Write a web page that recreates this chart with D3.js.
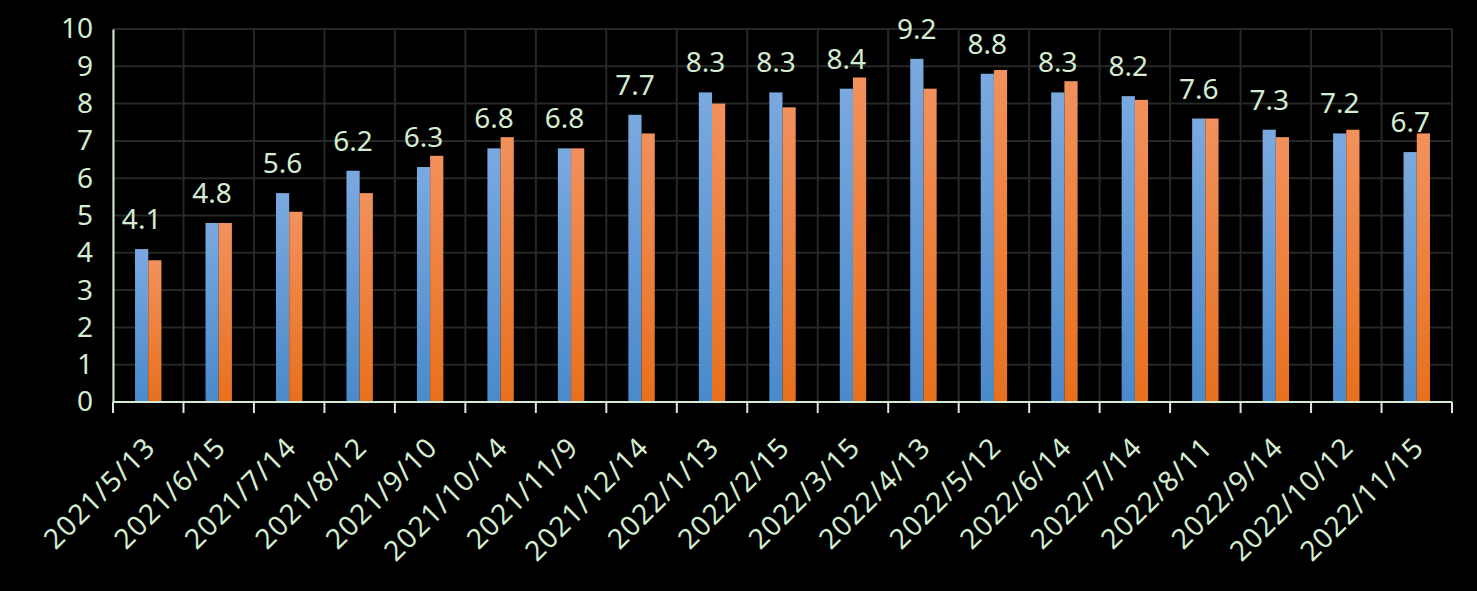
<!DOCTYPE html>
<html>
<head>
<meta charset="utf-8">
<script src="https://cdn.jsdelivr.net/npm/d3@7"></script>
<style>
  html, body { margin: 0; padding: 0; background: #000; }
  svg { display: block; }
  text { font-family: "Noto Sans", "Open Sans", sans-serif; }
</style>
</head>
<body>
<svg id="chart"></svg>
<script>
// data
let dates = ['2021/5/13','2021/6/15','2021/7/14','2021/8/12','2021/9/10','2021/10/14','2021/11/9',
    '2021/12/14','2022/1/13','2022/2/15','2022/3/15','2022/4/13','2022/5/12','2022/6/14',
    '2022/7/14','2022/8/11','2022/9/14','2022/10/12','2022/11/15'];
let seriesA = [4.1, 4.8, 5.6, 6.2, 6.3, 6.8, 6.8, 7.7, 8.3, 8.3, 8.4, 9.2, 8.8, 8.3, 8.2, 7.6, 7.3, 7.2, 6.7];
let seriesB = [3.8, 4.8, 5.1, 5.6, 6.6, 7.1, 6.8, 7.2, 8.0, 7.9, 8.7, 8.4, 8.9, 8.6, 8.1, 7.6, 7.1, 7.3, 7.2];
let yTicks = [0, 1, 2, 3, 4, 5, 6, 7, 8, 9, 10];

let textColor = '#d4ecd2';

function getConfig(){
    let width = 1477;
    let height = 591;
    let margin = { top: 29, bottom: 189, left: 113, right: 25 }
    let bodyHeight = height - margin.top - margin.bottom
    let bodyWidth = width - margin.left - margin.right
    let container = d3.select('#chart')
        .attr('width', width)
        .attr('height', height)
    return { width, height, margin, bodyHeight, bodyWidth, container }
}

function getScales(config){
    let xScale = d3.scaleBand()
        .domain(dates)
        .range([0, config.bodyWidth])
    let yScale = d3.scaleLinear()
        .domain([0, 10])
        .range([config.bodyHeight, 0])
    return { xScale, yScale }
}

function addGradients(container){
    let defs = container.append('defs')
    let grads = [
        { id: 'gradA', top: '#7aa9df', bottom: '#4a8acb' },
        { id: 'gradB', top: '#f2915d', bottom: '#e8701c' }
    ]
    grads.forEach(g => {
        let lg = defs.append('linearGradient')
            .attr('id', g.id)
            .attr('x1', 0).attr('y1', 0).attr('x2', 0).attr('y2', 1)
        lg.append('stop').attr('offset', '0%').attr('stop-color', g.top)
        lg.append('stop').attr('offset', '100%').attr('stop-color', g.bottom)
    })
}

function drawGrid(scales, config){
    let { xScale, yScale } = scales;
    let { container, margin, bodyWidth, bodyHeight } = config;
    let body = container.append('g')
        .attr('transform', `translate(${margin.left},${margin.top})`)

    body.selectAll('.hgrid')
        .data(yTicks.filter(d => d > 0))
        .enter().append('line')
        .attr('x1', 0).attr('x2', bodyWidth)
        .attr('y1', d => yScale(d)).attr('y2', d => yScale(d))
        .attr('stroke', '#252925')
        .attr('stroke-width', 2)

    let bounds = dates.map(d => xScale(d) + xScale.bandwidth()).concat([0])
    body.selectAll('.vgrid')
        .data(bounds)
        .enter().append('line')
        .attr('x1', d => d).attr('x2', d => d)
        .attr('y1', 0).attr('y2', bodyHeight)
        .attr('stroke', '#252925')
        .attr('stroke-width', 2)
}

function drawAxes(scales, config){
    let { xScale, yScale } = scales;
    let { container, margin, bodyHeight, bodyWidth } = config;

    let axisY = d3.axisLeft(yScale)
        .tickValues(yTicks)
        .tickSize(0)
        .tickPadding(20)
    let gy = container.append('g')
        .attr('transform', `translate(${margin.left},${margin.top})`)
        .call(axisY)
    gy.select('.domain').attr('stroke', textColor).attr('stroke-width', 2)
    gy.selectAll('text')
        .attr('fill', textColor)
        .style('font-size', '28px')

    // x axis: line plus tick marks on category boundaries
    let gx = container.append('g')
        .attr('transform', `translate(${margin.left},${margin.top + bodyHeight})`)
    gx.append('line')
        .attr('x1', 0).attr('x2', bodyWidth)
        .attr('y1', 0).attr('y2', 0)
        .attr('stroke', textColor).attr('stroke-width', 2)
    let bounds = [0].concat(dates.map(d => xScale(d) + xScale.bandwidth()))
    gx.selectAll('.tick')
        .data(bounds)
        .enter().append('line')
        .attr('x1', d => d).attr('x2', d => d)
        .attr('y1', 0).attr('y2', 11)
        .attr('stroke', textColor).attr('stroke-width', 2)

    gx.selectAll('.xlabel')
        .data(dates)
        .enter().append('text')
        .attr('text-anchor', 'end')
        .attr('transform', d => `translate(${xScale(d) + xScale.bandwidth() / 2 + 9},${47}) rotate(-45)`)
        .attr('fill', textColor)
        .style('font-size', '28px')
        .style('letter-spacing', '1.2px')
        .text(d => d)
}

function drawBars(scales, config){
    let { xScale, yScale } = scales;
    let { container, margin, bodyHeight } = config;
    let barW = 13.2;
    let body = container.append('g')
        .attr('transform', `translate(${margin.left},${margin.top})`)

    let rows = dates.map((d, i) => ({ date: d, a: seriesA[i], b: seriesB[i] }))
    let center = d => xScale(d.date) + xScale.bandwidth() / 2

    body.selectAll('.barA')
        .data(rows)
        .enter().append('rect')
        .attr('x', d => center(d) - barW)
        .attr('width', barW)
        .attr('y', d => yScale(d.a))
        .attr('height', d => bodyHeight - yScale(d.a))
        .attr('fill', 'url(#gradA)')

    body.selectAll('.barB')
        .data(rows)
        .enter().append('rect')
        .attr('x', d => center(d))
        .attr('width', barW)
        .attr('y', d => yScale(d.b))
        .attr('height', d => bodyHeight - yScale(d.b))
        .attr('fill', 'url(#gradB)')

    body.selectAll('.label')
        .data(rows)
        .enter().append('text')
        .attr('x', d => center(d) - barW / 2)
        .attr('y', d => yScale(d.a) - 20)
        .attr('text-anchor', 'middle')
        .attr('fill', textColor)
        .style('font-size', '28px')
        .text(d => d.a.toFixed(1))
}

function drawChart(){
    let config = getConfig();
    let scales = getScales(config);
    addGradients(config.container);
    drawGrid(scales, config);
    drawBars(scales, config);
    drawAxes(scales, config);
}

drawChart();
</script>
</body>
</html>
